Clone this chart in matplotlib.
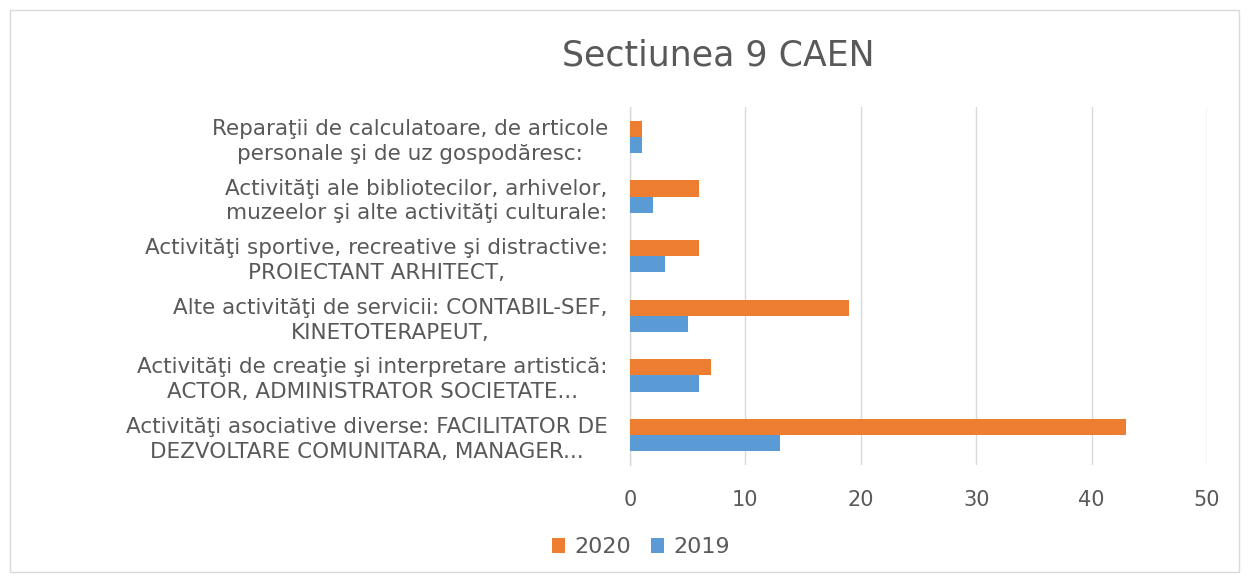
import matplotlib
matplotlib.use("Agg")
import matplotlib.pyplot as plt
from matplotlib.patches import Rectangle
import numpy as np

categories = [
    "Reparaţii de calculatoare, de articole\npersonale şi de uz gospodăresc:",
    "Activităţi ale bibliotecilor, arhivelor,\nmuzeelor şi alte activităţi culturale:",
    "Activităţi sportive, recreative şi distractive:\nPROIECTANT ARHITECT,",
    "Alte activităţi de servicii: CONTABIL-SEF,\nKINETOTERAPEUT,",
    "Activităţi de creaţie şi interpretare artistică:\nACTOR, ADMINISTRATOR SOCIETATE...",
    "Activităţi asociative diverse: FACILITATOR DE\nDEZVOLTARE COMUNITARA, MANAGER...",
]
values_2020 = [1, 6, 6, 19, 7, 43]
values_2019 = [1, 2, 3, 5, 6, 13]
xticks = [0, 10, 20, 30, 40, 50]

plt.rcParams['font.family'] = ['DejaVu Sans']
text_color = "#595959"

fig = plt.figure(figsize=(12.49, 5.81), dpi=100)
ax = fig.add_axes([0.5044, 0.1997, 0.9664 - 0.5044, 0.8158 - 0.1997])

n = len(categories)
ypos = np.arange(n)[::-1]  # first category on top
h = 0.27
ax.barh(ypos + h / 2, values_2020, height=h, color="#ED7D31", label="2020", zorder=3)
ax.barh(ypos - h / 2, values_2019, height=h, color="#5B9BD5", label="2019", zorder=3)

ax.set_xlim(0, 50)
ax.set_ylim(-0.5, n - 0.5)
ax.set_xticks(xticks)
ax.set_xticklabels([str(t) for t in xticks], fontsize=15, color=text_color)
ax.set_yticks(ypos)
ax.set_yticklabels(categories, fontsize=15.5, color=text_color, multialignment="center",
                   linespacing=1.3)
ax.tick_params(axis="both", length=0)
ax.tick_params(axis="x", pad=18)
ax.tick_params(axis="y", pad=16)
ax.grid(axis="x", color="#D9D9D9", linewidth=1, zorder=0)
for s in ["top", "right", "bottom"]:
    ax.spines[s].set_visible(False)
ax.spines["left"].set_color("#D9D9D9")
ax.spines["left"].set_linewidth(1)

fig.text(0.575, 0.905, "Sectiunea 9 CAEN", ha="center", va="center", fontsize=25, color=text_color)

leg = fig.legend(loc="center", bbox_to_anchor=(0.513, 0.058), ncol=2, frameon=False,
                 fontsize=16, handlelength=0.6, handleheight=0.6, handletextpad=0.4,
                 columnspacing=0.9)
for t in leg.get_texts():
    t.set_color(text_color)

fig.patches.append(Rectangle((0.008, 0.015), 0.984, 0.968, transform=fig.transFigure,
                             fill=False, edgecolor="#D9D9D9", linewidth=1))

fig.savefig("out.png", dpi=100)
